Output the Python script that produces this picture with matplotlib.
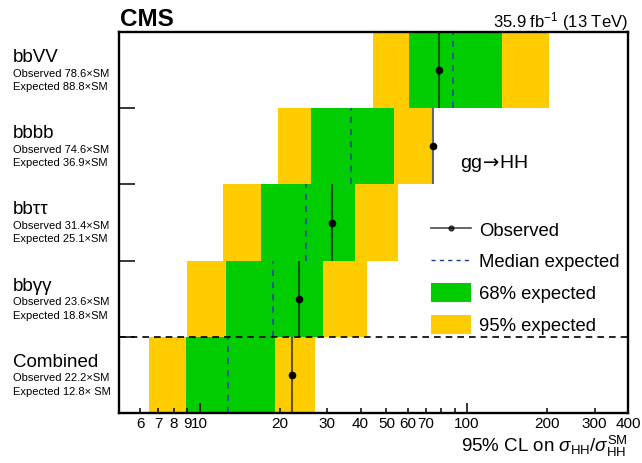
import numpy as np
import matplotlib
matplotlib.use('Agg')
import matplotlib.pyplot as plt
import matplotlib.transforms as mtransforms
from matplotlib.lines import Line2D
from matplotlib.patches import Patch
from matplotlib.ticker import FixedLocator, FixedFormatter

plt.rcParams['font.family'] = ['Liberation Sans', 'DejaVu Sans']
plt.rcParams['mathtext.fontset'] = 'custom'
plt.rcParams['mathtext.rm'] = 'Liberation Sans'
plt.rcParams['mathtext.it'] = 'Liberation Sans:italic'
plt.rcParams['mathtext.bf'] = 'Liberation Sans:bold'

# rows from bottom to top
channels = ['Combined', 'bbγγ', 'bbττ', 'bbbb', 'bbVV']
observed = [22.2, 23.6, 31.4, 74.6, 78.6]
expected = [12.8, 18.8, 25.1, 36.9, 88.8]
lo95 = [6.5, 9.0, 12.2, 19.6, 44.6]
lo68 = [8.9, 12.6, 17.0, 26.1, 60.8]
hi68 = [19.2, 28.9, 38.1, 53.5, 134.8]
hi95 = [27.0, 42.3, 55.1, 73.8, 202.0]
obs_txt = ['Observed 22.2×SM', 'Observed 23.6×SM', 'Observed 31.4×SM',
           'Observed 74.6×SM', 'Observed 78.6×SM']
exp_txt = ['Expected 12.8× SM', 'Expected 18.8×SM', 'Expected 25.1×SM',
           'Expected 36.9×SM', 'Expected 88.8×SM']

major_ticks = [10, 100]
minor_ticks = [6, 7, 8, 9, 20, 30, 40, 50, 60, 70, 80, 90, 200, 300, 400]
minor_labels = ['6', '7', '8', '9', '20', '30', '40', '50', '60', '70', '', '',
                '200', '300', '400']

green = '#00cc00'
yellow = '#ffcc00'
blue = '#1a3f9e'

W, H = 642, 463
fig = plt.figure(figsize=(W / 100, H / 100), dpi=100)
ax = fig.add_axes([119 / W, 1 - 413 / H, 509 / W, 381 / H])

y = np.arange(len(channels))
lo95 = np.array(lo95); hi95 = np.array(hi95)
lo68 = np.array(lo68); hi68 = np.array(hi68)

ax.barh(y, hi95 - lo95, left=lo95, height=1, align='edge', color=yellow, linewidth=0)
ax.barh(y, hi68 - lo68, left=lo68, height=1, align='edge', color=green, linewidth=0)
ax.vlines(expected, y, y + 1, colors=blue, linestyles=(0, (4, 4)), linewidth=1.1)
ax.vlines(observed, y, y + 1, colors='black', linewidth=1.5, alpha=0.6)
ax.plot(observed, y + 0.5, 'o', color='black', markersize=4.5, linestyle='none')
ax.axhline(1, color='black', linestyle=(0, (4, 3)), linewidth=1.2)

ax.set_xscale('log')
ax.set_xlim(5, 400)
ax.set_ylim(0, 5)

ax.xaxis.set_major_locator(FixedLocator(major_ticks))
ax.xaxis.set_major_formatter(FixedFormatter(['10', '100']))
ax.xaxis.set_minor_locator(FixedLocator(minor_ticks))
ax.xaxis.set_minor_formatter(FixedFormatter(minor_labels))
ax.tick_params(axis='x', which='major', direction='in', length=7.2, width=1.1,
               labelsize=11, pad=3)
ax.tick_params(axis='x', which='minor', direction='in', length=3.6, width=1.1,
               labelsize=11, pad=3)
ax.set_yticks([1, 2, 3, 4])
ax.set_yticklabels([])
ax.tick_params(axis='y', direction='in', length=11.5, width=1.1)
for s in ax.spines.values():
    s.set_linewidth(1.7)

# row labels
tr = mtransforms.blended_transform_factory(fig.transFigure, ax.transData)
for i, name in enumerate(channels):
    ax.text(13 / W, i + 0.605, name, transform=tr, fontsize=13.5, va='baseline', ha='left')
    ax.text(13 / W, i + 0.415, obs_txt[i], transform=tr, fontsize=8, va='baseline', ha='left')
    ax.text(13 / W, i + 0.24, exp_txt[i], transform=tr, fontsize=8, va='baseline', ha='left')

fig.text(120 / W, 1 - 26 / H, 'CMS', fontsize=17.5, fontweight='bold', va='baseline')
fig.text(628 / W, 1 - 27 / H, r'35.9 fb$^{-1}$ (13 TeV)', fontsize=12, ha='right', va='baseline')
fig.text(628 / W, 1 - 452 / H, r'95% CL on $\sigma_{\rm HH}/\sigma_{\rm HH}^{\rm SM}$',
         fontsize=13.5, ha='right', va='baseline')
fig.text(460 / W, 1 - 168 / H, r'gg$\!\rightarrow\!$HH', fontsize=14, va='baseline',
         math_fontfamily='dejavusans')

handles = [
    Line2D([], [], color='black', alpha=0.7, linewidth=1.2, marker='o', markersize=3.5),
    Line2D([], [], color=blue, linestyle=(0, (3, 3)), linewidth=1),
    Patch(facecolor=green, linewidth=0),
    Patch(facecolor=yellow, linewidth=0),
]
labels = ['Observed', 'Median expected', '68% expected', '95% expected']
ax.legend(handles, labels, loc='upper left', bbox_to_anchor=(312 / 509, (413 - 220) / 381),
          frameon=False, fontsize=13.3, handlelength=2.15, handleheight=1.2,
          handletextpad=0.45, labelspacing=0.65, borderpad=0, borderaxespad=0)

fig.savefig('out.png', dpi=100)
